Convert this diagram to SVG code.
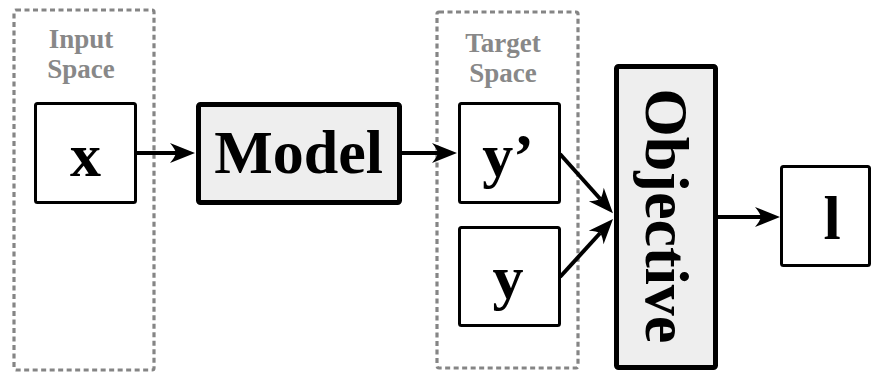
<svg xmlns="http://www.w3.org/2000/svg" width="872" height="373" viewBox="0 0 872 373">
<style>
.space{fill:none;stroke:#858585;stroke-width:3.2;stroke-dasharray:5 3.5}
.lbl{font-family:"Liberation Serif","Times New Roman",serif;font-weight:bold;font-size:27px;fill:#888888;text-anchor:middle}
.node{fill:#ffffff;stroke:#000000;stroke-width:3}
.thick{fill:#eeeeee;stroke:#000000;stroke-width:5}
.t{font-family:"Liberation Serif","Times New Roman",serif;font-weight:bold;font-size:62px;fill:#000000;text-anchor:middle}
.edge{fill:none;stroke:#000000;stroke-width:4}
</style>
<defs>
<marker id="ah" markerUnits="userSpaceOnUse" markerWidth="30" markerHeight="24" viewBox="-2 -12 30 24" refX="6" refY="0" orient="auto">
<path d="M25,0 L0,-10 Q5,-4 6,0 Q5,4 0,10 Z" fill="#000000"/>
</marker>
</defs>
<g id="input-space">
<rect class="space" x="14" y="10" width="140" height="360" rx="2"/>
<text class="lbl" x="81" y="48">Input</text>
<text class="lbl" x="81" y="78">Space</text>
</g>
<g id="target-space">
<rect class="space" x="437" y="12" width="141" height="356" rx="2"/>
<text class="lbl" x="503" y="52">Target</text>
<text class="lbl" x="503" y="82">Space</text>
</g>
<g id="connectors">
<line class="edge" x1="137" y1="153" x2="176" y2="153" marker-end="url(#ah)"/>
<line class="edge" x1="402" y1="153" x2="438" y2="153" marker-end="url(#ah)"/>
<line class="edge" x1="560" y1="154" x2="600.3" y2="199" marker-end="url(#ah)"/>
<line class="edge" x1="560" y1="277" x2="600.2" y2="233" marker-end="url(#ah)"/>
<line class="edge" x1="718" y1="217" x2="761" y2="217" marker-end="url(#ah)"/>
</g>
<g id="node-x">
<rect class="node" x="35.5" y="103.5" width="100" height="99" rx="2"/>
<text class="t" x="85.5" y="176">x</text>
</g>
<g id="node-model">
<rect class="thick" x="198.5" y="104.5" width="201" height="98" rx="2"/>
<text class="t" x="298.5" y="173">Model</text>
</g>
<g id="node-yprime">
<rect class="node" x="459.5" y="103.5" width="100" height="99" rx="2"/>
<text class="t" x="508" y="176">y’</text>
</g>
<g id="node-y">
<rect class="node" x="459.5" y="227.5" width="100" height="98" rx="2"/>
<text class="t" x="508" y="298">y</text>
</g>
<g id="node-objective">
<rect class="thick" x="616.5" y="66.5" width="99" height="301" rx="2"/>
<text class="t" transform="translate(646,216) rotate(90)" x="0" y="0">Objective</text>
</g>
<g id="node-l">
<rect class="node" x="781.5" y="166.5" width="88" height="99" rx="2"/>
<text class="t" x="832" y="239">l</text>
</g>
</svg>
